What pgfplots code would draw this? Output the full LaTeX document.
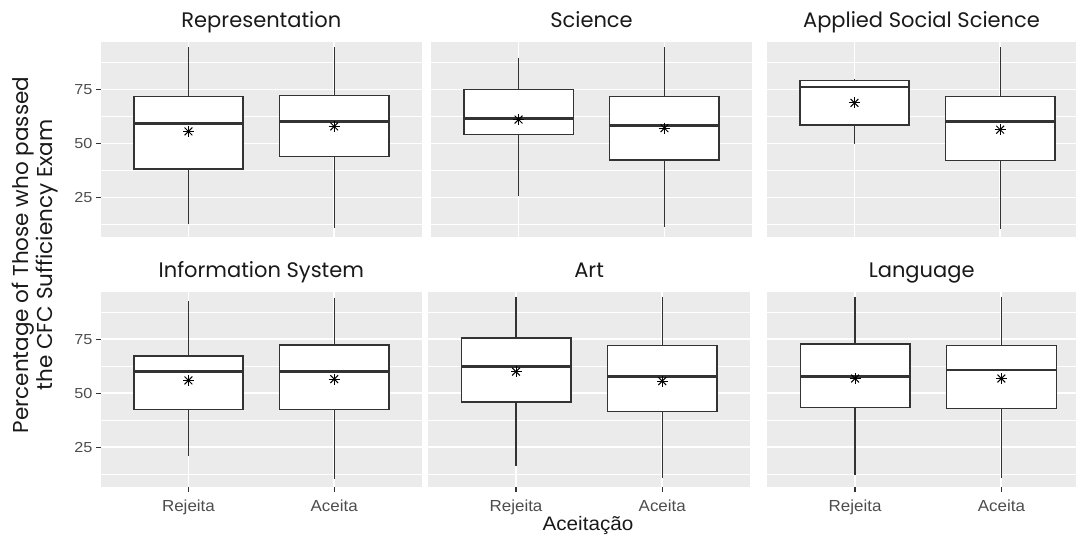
\documentclass[border=0pt]{standalone}
\usepackage{fontspec}
\setmainfont{Liberation Sans}
\newfontfamily\gothic{Poppins}
\newfontfamily\ticky[FakeStretch=1.12]{Liberation Sans}
\newfontfamily\tickx[FakeStretch=1.06]{Liberation Sans}
\usepackage{pgfplots}
\pgfplotsset{compat=1.18}

\definecolor{panelbg}{HTML}{EBEBEB}
\definecolor{boxedge}{HTML}{333333}
\definecolor{ticklab}{HTML}{4D4D4D}

\pgfplotsset{
  facet/.style={
    scale only axis,
    height=195.5pt,
    ymin=6.5, ymax=97,
    xmin=0.4, xmax=2.6,
    axis background/.style={fill=panelbg},
    axis line style={draw=none},
    xtick={1,2}, ytick={25,50,75},
    minor ytick={12.5,37.5,62.5,87.5},
    xmajorgrids, ymajorgrids, yminorgrids,
    major grid style={white, line width=1.8pt},
    minor grid style={white, line width=0.9pt},
    tick align=outside, tick pos=left,
    major tick length=5pt, minor tick length=0pt,
    yticklabels={}, xticklabels={},
    xtick style={draw=none}, ytick style={draw=none},
    title style={font=\gothic\fontsize{21}{24}\selectfont, at={(0.5,1)}, anchor=base, yshift=8pt, color=black!90},
    /pgf/number format/assume math mode=true,
  },
  ylabs/.style={yticklabels={25,50,75}, ytick style={draw=boxedge, line width=1.2pt}, yticklabel style={font=\ticky\fontsize{14.5}{16}\selectfont, color=ticklab}},
  xlabs/.style={xticklabels={Rejeita,Aceita}, xtick style={draw=boxedge, line width=1.2pt}, xticklabel style={font=\tickx\fontsize{16}{18}\selectfont, color=ticklab, yshift=-4pt}},
}

% #1 position, #2 left edge, #3 right edge, #4 lower whisker, #5 lower quartile, #6 median, #7 upper quartile, #8 upper whisker
\newcommand{\gbox}[8]{%
  \addplot[draw=boxedge, line width=1.4pt] coordinates {(#1,#4) (#1,#8)};
  \addplot[draw=boxedge, line width=1.4pt, fill=white] coordinates {(#2,#5) (#3,#5) (#3,#7) (#2,#7)} -- cycle;
  \addplot[draw=boxedge, line width=2.7pt] coordinates {(#2,#6) (#3,#6)};
}
% means: ggplot shape 8 (+ and x together)
\newcommand{\gmean}[2]{%
  \addplot[only marks, mark=+, mark size=5.5pt, mark options={line width=1pt, draw=black}] coordinates {(1,#1) (2,#2)};
  \addplot[only marks, mark=x, mark size=5.5pt, mark options={line width=1pt, draw=black}] coordinates {(1,#1) (2,#2)};
}

\begin{document}
\begin{tikzpicture}
\useasboundingbox (0pt,0pt) rectangle (1076pt,537pt);

% ---------- top row ----------
\begin{axis}[facet, ylabs, at={(101pt,495pt)}, anchor=north west, width=320.7pt, title={Representation}]
\gbox{1}{0.625}{1.375}{12.6}{38.2}{59.2}{71.9}{94.8}
\gbox{2}{1.625}{2.375}{10.9}{44.0}{60.2}{72.3}{94.8}
\gmean{55.6}{57.9}
\end{axis}

\begin{axis}[facet, at={(431pt,495pt)}, anchor=north west, width=321pt, title={Science}]
\gbox{1}{0.625}{1.375}{25.6}{54.2}{61.7}{75.0}{89.5}
\gbox{2}{1.625}{2.375}{11.3}{42.4}{58.5}{71.8}{94.6}
\gmean{61.1}{57.1}
\end{axis}

\begin{axis}[facet, at={(767pt,495pt)}, anchor=north west, width=309pt, xmax=2.52, title={Applied Social Science}]
\gbox{1}{0.625}{1.375}{49.8}{58.5}{76.1}{79.2}{79.8}
\gbox{2}{1.625}{2.375}{10.6}{42.1}{60.1}{71.9}{94.9}
\gmean{68.8}{56.4}
\end{axis}

% ---------- bottom row ----------
\begin{axis}[facet, ylabs, xlabs, at={(101pt,245.3pt)}, anchor=north west, width=320.7pt, title={Information System}]
\gbox{1}{0.625}{1.375}{21.1}{42.4}{59.9}{67.3}{92.7}
\gbox{2}{1.625}{2.375}{10.3}{42.4}{59.9}{72.4}{94.3}
\gmean{55.9}{56.5}
\end{axis}

\begin{axis}[facet, xlabs, at={(428.3pt,245.3pt)}, anchor=north west, width=321.7pt, title={Art}]
\gbox{1}{0.625}{1.375}{16.1}{45.9}{62.3}{75.6}{94.6}
\gbox{2}{1.625}{2.375}{10.6}{41.5}{57.9}{72.2}{94.6}
\gmean{60.0}{55.6}
\end{axis}

\begin{axis}[facet, xlabs, at={(767.3pt,245.3pt)}, anchor=north west, width=308.7pt, xmax=2.51, title={Language}]
\gbox{1}{0.625}{1.375}{12.1}{43.4}{57.7}{72.7}{94.6}
\gbox{2}{1.625}{2.375}{10.8}{42.8}{60.7}{72.1}{94.6}
\gmean{56.8}{56.8}
\end{axis}

\node[rotate=90, align=center, font=\gothic\fontsize{21.5}{23.5}\selectfont, color=black!90] at (35pt,282pt) {Percentage of Those who passed\\the CFC Sufficiency Exam};
\node[anchor=base, font=\tickx\fontsize{19.5}{21}\selectfont, color=black!90] at (588pt,6pt) {Aceitação};
\end{tikzpicture}
\end{document}
